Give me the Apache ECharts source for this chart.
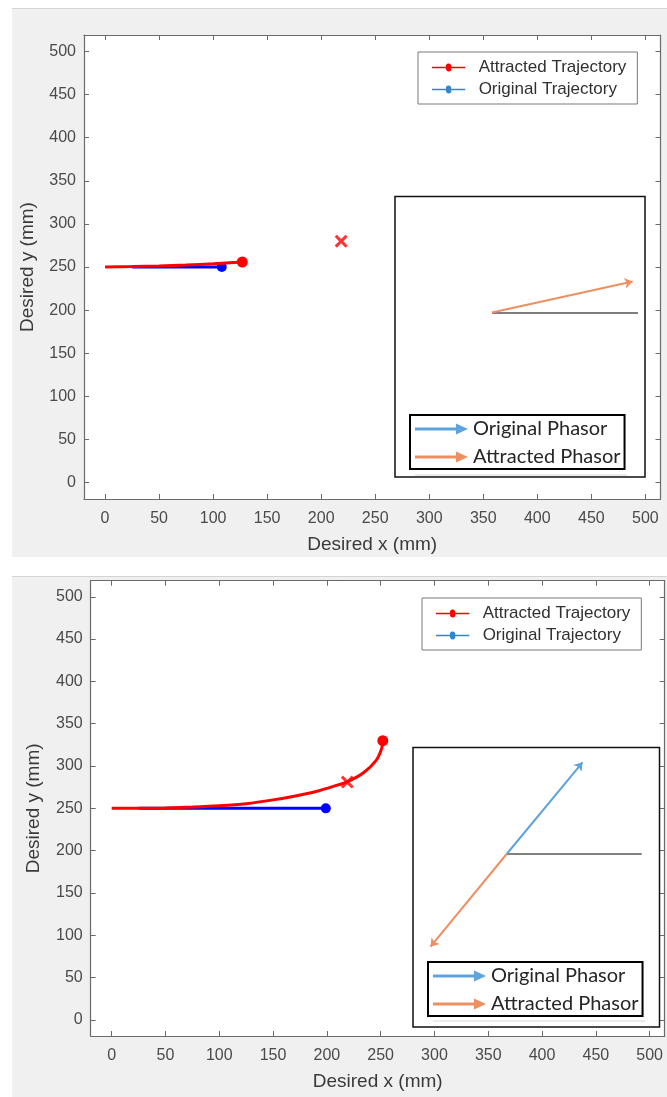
<!DOCTYPE html>
<html>
<head>
<meta charset="utf-8">
<script src="https://cdn.jsdelivr.net/npm/echarts@6/dist/echarts.min.js"></script>
<style>
  html, body { margin: 0; padding: 0; background: #ffffff; }
  #chart { width: 667px; height: 1097px; }
</style>
</head>
<body>
<div id="chart"></div>
<script>
// Axis ticks (mm) and axis limits shared by both trajectory plots
const tickValues = [0, 50, 100, 150, 200, 250, 300, 350, 400, 450, 500];
const xLimits = [-19.5, 514];
const yLimits = [-19, 519];

// Upper plot: attraction has just started
const topAttractedX = [0, 25, 50, 75, 100, 127];
const topAttractedY = [250, 250.5, 251.2, 252.3, 253.8, 255.8];
const topOriginalX = [25, 108];
const topOriginalY = [250, 250];
const topAttractor = [218.5, 280];

// Lower plot: trajectory bent towards the attractor
const botAttractedX = [0, 25, 50, 75, 100, 125, 150, 172, 190, 206, 220, 234, 246, 251, 252];
const botAttractedY = [250, 250, 250.5, 251.5, 253, 255.5, 260, 265, 270, 276, 282, 292, 307, 321, 330];
const botOriginalX = [25, 199];
const botOriginalY = [250, 250];
const botAttractor = [219, 281];

// Phasor diagrams: [magnitude, angle in degrees]
const topReference = [146, 0];
const topAttractedPhasor = [144, 12.4];
const botReference = [135, 0];
const botOriginalPhasor = [119, 50.4];
const botAttractedPhasor = [120, 230.6];

const RED = '#ff0000';
const BLUE = '#0000ff';
const LEGEND_BLUE = '#2f86d2';
const PH_BLUE = '#5ea3dc';
const PH_ORANGE = '#ee8f62';
const AXIS_COLOR = '#6a6a6a';
const LABEL_COLOR = '#4a4a4a';
const FONT = '"Liberation Sans", Arial, sans-serif';

const zip = (xs, ys) => xs.map((x, i) => [x, ys[i]]);
const tip = ([m, a]) => [m * Math.cos(a * Math.PI / 180), m * Math.sin(a * Math.PI / 180)];

const dotLineIcon = 'path://M0,3 L21.13,3 A4,4 0 1 1 28.87,3 L50,3 L50,5 L28.87,5 A4,4 0 1 1 21.13,5 L0,5 Z';
const arrowIcon = 'path://M0,4 L41,4 L41,0 L53,5.5 L41,11 L41,7 L0,7 Z';
const crossSymbol = 'path://M0,2 L2,0 L6,4 L10,0 L12,2 L8,6 L12,10 L10,12 L6,8 L2,12 L0,10 L4,6 Z';

function mainXAxes(gridIndex) {
  const base = {
    type: 'value', gridIndex, min: xLimits[0], max: xLimits[1],
    axisLine: { show: true, onZero: false, lineStyle: { color: AXIS_COLOR, width: 1.2 } },
    axisTick: { show: true, inside: true, length: 5, customValues: tickValues, lineStyle: { color: AXIS_COLOR } },
    splitLine: { show: false }
  };
  return [
    Object.assign({}, base, {
      position: 'bottom',
      axisLabel: { customValues: tickValues, color: LABEL_COLOR, fontSize: 16, fontFamily: FONT, margin: 12 },
      name: 'Desired x (mm)', nameLocation: 'middle', nameGap: 36,
      nameTextStyle: { color: '#3a3a3a', fontSize: 19, fontFamily: FONT }
    }),
    Object.assign({}, base, { position: 'top', axisLabel: { show: false } })
  ];
}

function mainYAxes(gridIndex) {
  const base = {
    type: 'value', gridIndex, min: yLimits[0], max: yLimits[1],
    axisLine: { show: true, onZero: false, lineStyle: { color: AXIS_COLOR, width: 1.2 } },
    axisTick: { show: true, inside: true, length: 5, customValues: tickValues, lineStyle: { color: AXIS_COLOR } },
    splitLine: { show: false }
  };
  return [
    Object.assign({}, base, {
      position: 'left',
      axisLabel: { customValues: tickValues, color: LABEL_COLOR, fontSize: 16, fontFamily: FONT, margin: 8 },
      name: 'Desired y (mm)', nameLocation: 'middle', nameGap: 47,
      nameTextStyle: { color: '#3a3a3a', fontSize: 19, fontFamily: FONT }
    }),
    Object.assign({}, base, { position: 'right', axisLabel: { show: false } })
  ];
}

function insetAxes(gridIndex, xr, yr) {
  return {
    x: { type: 'value', gridIndex, min: xr[0], max: xr[1], show: false, splitLine: { show: false } },
    y: { type: 'value', gridIndex, min: yr[0], max: yr[1], show: false, splitLine: { show: false } }
  };
}

function trajectorySeries(axisIndex, attX, attY, oriX, oriY, attractor) {
  const lastA = attX.length - 1;
  const lastO = oriX.length - 1;
  return [
    {
      type: 'line', name: 'Original Trajectory', xAxisIndex: axisIndex, yAxisIndex: axisIndex,
      data: zip(oriX, oriY), color: BLUE, lineStyle: { color: BLUE, width: 3 },
      symbol: 'circle', showSymbol: true,
      symbolSize: (v, p) => (p.dataIndex === lastO ? 10 : 0),
      itemStyle: { color: BLUE }, z: 3, silent: true, animation: false
    },
    {
      type: 'line', name: 'Attracted Trajectory', xAxisIndex: axisIndex, yAxisIndex: axisIndex,
      data: zip(attX, attY), smooth: 0.3, color: RED, lineStyle: { color: RED, width: 3 },
      symbol: 'circle', showSymbol: true,
      symbolSize: (v, p) => (p.dataIndex === lastA ? 11 : 0),
      itemStyle: { color: RED }, z: 4, silent: true, animation: false
    },
    {
      type: 'scatter', name: 'Attractor', xAxisIndex: axisIndex, yAxisIndex: axisIndex,
      data: [attractor], symbol: crossSymbol, symbolSize: 13,
      itemStyle: { color: RED }, z: 5, silent: true, animation: false
    }
  ];
}

function phasorSeries(axisIndex, name, color, phasor) {
  return {
    type: 'lines', name, coordinateSystem: 'cartesian2d', xAxisIndex: axisIndex, yAxisIndex: axisIndex,
    data: [{ coords: [[0, 0], tip(phasor)] }],
    symbol: ['none', 'arrow'], symbolSize: 8,
    lineStyle: { color, width: 2, opacity: 1 }, itemStyle: { color },
    z: 6, silent: true, animation: false
  };
}

function referenceSeries(axisIndex, ref) {
  return {
    type: 'lines', name: 'Reference', coordinateSystem: 'cartesian2d', xAxisIndex: axisIndex, yAxisIndex: axisIndex,
    data: [{ coords: [[0, 0], tip(ref)] }],
    symbol: ['none', 'none'],
    lineStyle: { color: '#7f7f7f', width: 2, opacity: 1 },
    z: 5, silent: true, animation: false
  };
}

const topInset = insetAxes(2, [-97, 153], [-164.5, 116]);
const botInset = insetAxes(3, [-93.7, 152.8], [-173, 106.5]);

const trajLegend = (pos) => Object.assign({
  orient: 'vertical', selectedMode: false,
  itemWidth: 50, itemHeight: 8, itemGap: 5,
  padding: [7, 11, 6, 14],
  backgroundColor: '#ffffff', borderColor: '#7a7a7a', borderWidth: 1,
  textStyle: { fontSize: 17, color: '#303030', fontFamily: FONT },
  data: [
    { name: 'Attracted Trajectory', icon: dotLineIcon, itemStyle: { color: RED, borderWidth: 0 } },
    { name: 'Original Trajectory', icon: dotLineIcon, itemStyle: { color: LEGEND_BLUE, borderWidth: 0 } }
  ]
}, pos);

const phasorLegend = (pos) => Object.assign({
  orient: 'vertical', selectedMode: false,
  itemWidth: 53, itemHeight: 11, itemGap: 8,
  padding: [4, 4, 2, 5],
  backgroundColor: '#ffffff', borderColor: '#000000', borderWidth: 2,
  textStyle: { fontSize: 20, color: '#262626', fontFamily: 'Lato, "Open Sans", sans-serif' },
  data: [
    { name: 'Original Phasor', icon: arrowIcon, itemStyle: { color: PH_BLUE, borderWidth: 0 } },
    { name: 'Attracted Phasor', icon: arrowIcon, itemStyle: { color: PH_ORANGE, borderWidth: 0 } }
  ]
}, pos);

const option = {
  animation: false,
  backgroundColor: '#ffffff',
  graphic: [
    // figure window backgrounds
    { type: 'rect', z: -10, shape: { x: 12, y: 8, width: 655, height: 549 }, style: { fill: '#f0f0f0' } },
    { type: 'rect', z: -10, shape: { x: 12, y: 576, width: 655, height: 521 }, style: { fill: '#f0f0f0' } },
    { type: 'line', z: -9, shape: { x1: 12, y1: 8.5, x2: 667, y2: 8.5 }, style: { stroke: '#d4d4d4', lineWidth: 1 } },
    { type: 'line', z: -9, shape: { x1: 12, y1: 576.5, x2: 667, y2: 576.5 }, style: { stroke: '#d4d4d4', lineWidth: 1 } },
    // thin rule under the phasor legends
    { type: 'line', z: 20, shape: { x1: 415, y1: 475, x2: 627, y2: 475 }, style: { stroke: '#d6d6d6', lineWidth: 1 } },
    { type: 'line', z: 20, shape: { x1: 433, y1: 1021, x2: 645, y2: 1021 }, style: { stroke: '#d6d6d6', lineWidth: 1 } }
  ],
  grid: [
    { left: 84, top: 35, width: 576.5, height: 464, show: true, backgroundColor: '#ffffff', borderWidth: 0 },
    { left: 90.7, top: 580.7, width: 574, height: 455.3, show: true, backgroundColor: '#ffffff', borderWidth: 0 },
    { left: 395, top: 196.5, width: 250, height: 280.5, show: true, backgroundColor: '#ffffff', borderColor: '#111111', borderWidth: 1.5, z: 2 },
    { left: 413, top: 747.5, width: 246.5, height: 279.5, show: true, backgroundColor: '#ffffff', borderColor: '#111111', borderWidth: 1.5, z: 2 }
  ],
  xAxis: [...mainXAxes(0), ...mainXAxes(1), topInset.x, botInset.x],
  yAxis: [...mainYAxes(0), ...mainYAxes(1), topInset.y, botInset.y],
  legend: [
    trajLegend({ left: 418, top: 52 }),
    trajLegend({ left: 422, top: 598 }),
    phasorLegend({ left: 410, top: 415 }),
    phasorLegend({ left: 428, top: 962 })
  ],
  series: [
    // upper plot (axes 0 = bottom/left)
    ...trajectorySeries(0, topAttractedX, topAttractedY, topOriginalX, topOriginalY, topAttractor),
    // lower plot (axes 2 = bottom/left of second grid)
    ...trajectorySeries(2, botAttractedX, botAttractedY, botOriginalX, botOriginalY, botAttractor),
    // phasor insets
    referenceSeries(4, topReference),
    phasorSeries(4, 'Attracted Phasor', PH_ORANGE, topAttractedPhasor),
    referenceSeries(5, botReference),
    phasorSeries(5, 'Original Phasor', PH_BLUE, botOriginalPhasor),
    phasorSeries(5, 'Attracted Phasor', PH_ORANGE, botAttractedPhasor)
  ]
};

const chart = echarts.init(document.getElementById('chart'), null, { renderer: 'canvas' });
chart.setOption(option);
</script>
</body>
</html>
